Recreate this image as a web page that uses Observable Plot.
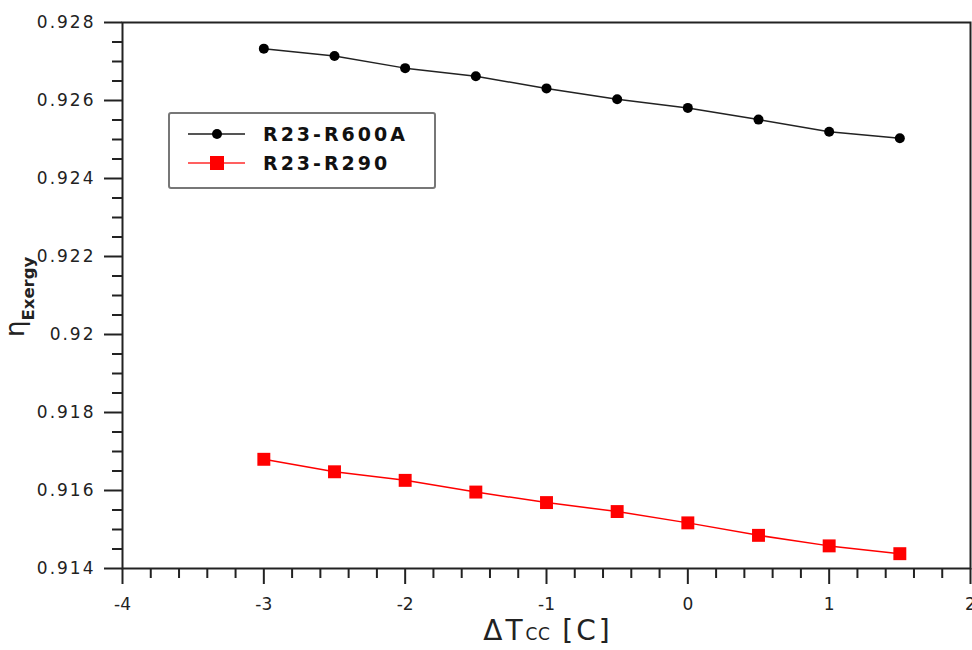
<!DOCTYPE html>
<html><head><meta charset="utf-8">
<script src="https://cdn.jsdelivr.net/npm/d3@7"></script>
<script src="https://cdn.jsdelivr.net/npm/@observablehq/plot@0.6"></script>
<style>body{margin:0;background:#fff} svg{display:block}</style>
</head><body><div id="chart"></div>
<script>
const dT = [-3, -2.5, -2, -1.5, -1, -0.5, 0, 0.5, 1, 1.5];
const r600a = [0.92733, 0.92714, 0.92683, 0.92662, 0.92631, 0.92603, 0.92581, 0.92551, 0.92520, 0.92503];
const r290 = [0.91680, 0.91648, 0.91626, 0.91596, 0.91569, 0.91546, 0.91517, 0.91485, 0.91458, 0.91438];
const seriesNames = ["R23-R600A", "R23-R290"];
const seriesColors = ["#000000", "#ff0000"];
const xMajor = [-4, -3, -2, -1, 0, 1, 2];
const xMinor = d3.range(0, 31).map(i => +(-4 + i * 0.2).toFixed(2)).filter(v => !Number.isInteger(v));
const yMajor = [0.914, 0.916, 0.918, 0.92, 0.922, 0.924, 0.926, 0.928];
const yMinor = d3.range(0, 29).map(i => +(0.914 + i * 0.0005).toFixed(4)).filter(v => !yMajor.includes(v));

const blackData = dT.map((x, i) => ({x, y: r600a[i]}));
const redData = dT.map((x, i) => ({x, y: r290[i]}));

const font = "DejaVu Sans, Verdana, sans-serif";

const chart = Plot.plot({
  width: 972,
  height: 650,
  marginLeft: 122,
  marginRight: 2,
  marginTop: 22,
  marginBottom: 82,
  style: {fontFamily: font, background: "#fff", color: "#222"},
  x: {domain: [-4, 2]},
  y: {domain: [0.914, 0.928]},
  marks: [
    Plot.axisY(yMajor, {tickSize: 18, tickPadding: 9, strokeWidth: 2, fontSize: 17, fill: "#222", tickFormat: d => String(+d.toFixed(3)), label: null}),
    Plot.axisY(yMinor, {tickSize: 10, strokeWidth: 2, tickFormat: () => "", label: null}),
    Plot.axisX(xMajor, {tickSize: 16, tickPadding: 13, strokeWidth: 2, fontSize: 17, fill: "#222", tickFormat: d => String(d), label: null}),
    Plot.axisX(xMinor, {tickSize: 10, strokeWidth: 2, tickFormat: () => "", label: null}),
    Plot.frame({stroke: "#222", strokeWidth: 2}),
    Plot.line(blackData, {x: "x", y: "y", stroke: "#222", strokeWidth: 1.5}),
    Plot.dot(blackData, {x: "x", y: "y", r: 5, fill: seriesColors[0], stroke: "none"}),
    Plot.line(redData, {x: "x", y: "y", stroke: seriesColors[1], strokeWidth: 1.5}),
    Plot.dot(redData, {x: "x", y: "y", r: 7.3, symbol: "square", fill: seriesColors[1], stroke: "none"})
  ]
});
document.getElementById("chart").append(chart);

const svg = d3.select(chart);
svg.selectAll('g[aria-label="y-axis tick label"] text').style("letter-spacing", "2px");
svg.selectAll('g[aria-label="x-axis tick label"]').style("font-size", "17px");

// x axis label
const xl = svg.append("text").attr("x", 548).attr("y", 640).attr("text-anchor", "middle")
  .attr("fill", "#222").style("font-family", font).style("font-size", "28px");
xl.append("tspan").style("letter-spacing", "3px").text("ΔT");
xl.append("tspan").style("font-size", "17px").style("letter-spacing", "0.5px").text("CC");
xl.append("tspan").style("letter-spacing", "3px").text(" [C]");
// y axis label
const yl = svg.append("text").attr("transform", "translate(24,337) rotate(-90)").attr("text-anchor", "start")
  .attr("fill", "#222").style("font-family", font);
yl.append("tspan").style("font-size", "26px").text("η");
yl.append("tspan").style("font-size", "16.5px").style("font-weight", "bold").attr("dy", 10).text("Exergy");

// legend
const lg = svg.append("g");
lg.append("rect").attr("x", 169).attr("y", 113).attr("width", 266).attr("height", 75)
  .attr("fill", "#fff").attr("stroke", "#777").attr("stroke-width", 2).attr("rx", 2);
const rowsY = [134, 163];
seriesNames.forEach((name, i) => {
  const y = rowsY[i];
  lg.append("line").attr("x1", 188).attr("x2", 245).attr("y1", y).attr("y2", y)
    .attr("stroke", i === 0 ? "#555" : "#ff6060").attr("stroke-width", 2);
  if (i === 0) lg.append("circle").attr("cx", 217).attr("cy", y).attr("r", 5).attr("fill", seriesColors[0]);
  else lg.append("rect").attr("x", 210).attr("y", y - 7).attr("width", 14).attr("height", 14).attr("fill", seriesColors[1]);
  lg.append("text").attr("x", 263).attr("y", y + 7).attr("fill", "#111").attr("text-anchor", "start")
    .style("font-family", font).style("font-size", "19px").style("font-weight", "bold")
    .style("letter-spacing", "3px").text(name);
});
</script>
</body></html>
